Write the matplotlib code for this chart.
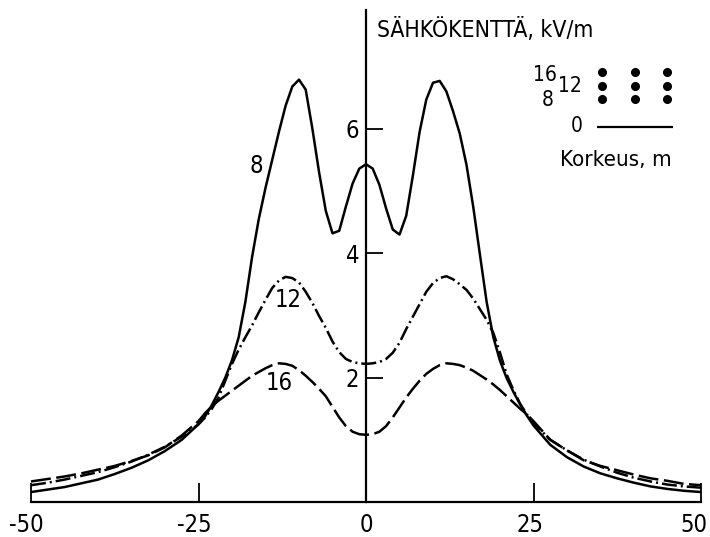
import matplotlib
matplotlib.use("Agg")
import matplotlib.pyplot as plt
from matplotlib.transforms import ScaledTranslation

# ---------------- data ----------------
x_m = [-50, -47.5, -45, -42.5, -40, -37.5, -35, -32.5, -30, -27.5,
       -25, -24, -23, -22, -21, -20, -19, -18, -17, -16, -15, -14, -13,
       -12, -11, -10, -9, -8, -7, -6, -5, -4, -3, -2, -1,
       0,
       1, 2, 3, 4, 5, 6, 7, 8, 9, 10, 11, 12, 13, 14, 15, 16, 17, 18,
       19, 20, 21, 22, 23, 24, 25,
       27.5, 30, 32.5, 35, 37.5, 40, 42.5, 45, 47.5, 50]

e_h8 = [0.16, 0.20, 0.24, 0.30, 0.36, 0.45, 0.55, 0.67, 0.82, 1.00,
        1.25, 1.38, 1.56, 1.77, 2.00, 2.28, 2.65, 3.22, 3.94, 4.55, 5.05, 5.50, 5.95,
        6.37, 6.68, 6.79, 6.63, 6.00, 5.30, 4.68, 4.32, 4.36, 4.75, 5.12, 5.36,
        5.43,
        5.36, 5.10, 4.72, 4.38, 4.30, 4.60, 5.25, 5.95, 6.47, 6.74, 6.77, 6.60, 6.28,
        5.92, 5.42, 4.75, 3.98, 3.22, 2.65, 2.27, 1.99, 1.77, 1.57, 1.39, 1.23,
        0.92, 0.72, 0.57, 0.46, 0.38, 0.31, 0.25, 0.21, 0.18, 0.16]

e_h12 = [0.27, 0.31, 0.36, 0.42, 0.48, 0.56, 0.65, 0.76, 0.89, 1.05,
         1.25, 1.36, 1.50, 1.68, 1.95, 2.22, 2.45, 2.65, 2.84, 3.05, 3.25, 3.44, 3.56,
         3.62, 3.60, 3.53, 3.38, 3.20, 2.99, 2.80, 2.58, 2.41, 2.30, 2.25, 2.23,
         2.22,
         2.23, 2.25, 2.30, 2.40, 2.56, 2.78, 2.98, 3.18, 3.38, 3.52, 3.60, 3.63, 3.58,
         3.50, 3.41, 3.27, 3.10, 2.93, 2.72, 2.40, 2.05, 1.80, 1.58, 1.41, 1.27,
         1.00, 0.83, 0.68, 0.57, 0.47, 0.39, 0.33, 0.28, 0.25, 0.23]

e_h16 = [0.33, 0.37, 0.41, 0.46, 0.52, 0.58, 0.66, 0.75, 0.88, 1.07,
         1.30, 1.43, 1.54, 1.63, 1.71, 1.79, 1.87, 1.95, 2.03, 2.09, 2.15, 2.20, 2.23,
         2.22, 2.19, 2.12, 2.03, 1.93, 1.82, 1.70, 1.53, 1.36, 1.22, 1.13, 1.09,
         1.08,
         1.09, 1.13, 1.22, 1.36, 1.52, 1.68, 1.82, 1.95, 2.06, 2.14, 2.20, 2.23, 2.22,
         2.20, 2.16, 2.11, 2.04, 1.97, 1.89, 1.80, 1.70, 1.60, 1.50, 1.41, 1.30,
         1.00, 0.83, 0.67, 0.58, 0.51, 0.44, 0.38, 0.34, 0.29, 0.27]

x_ticks = [-50, -25, 0, 25, 50]
x_ticklabels = ["-50", "-25", "0", "25", "50"]
y_ticks = [2, 4, 6]
y_ticklabels = ["2", "4", "6"]

curve_labels = ["8", "12", "16"]
curve_label_pos = [(-16.4, 5.4), (-11.6, 3.25), (-13.0, 1.91)]

# legend schematic: conductor heights and phase positions
cond_heights = [8, 12, 16]
phase_pos = [-1, 0, 1]

title_text = "SÄHKÖKENTTÄ, kV/m"
legend_text = "Korkeus, m"

# ---------------- style ----------------
FAM = ["DejaVu Sans"]
plt.rcParams["font.family"] = FAM
plt.rcParams["font.stretch"] = "condensed"
plt.rcParams["lines.solid_capstyle"] = "butt"

fig = plt.figure(figsize=(7.1, 5.37), dpi=100)
W, H = 710, 537
left_px, right_px, bottom_px, top_px = 31, 701, 502, 10
ax = fig.add_axes([left_px / W, (H - bottom_px) / H,
                   (right_px - left_px) / W, (bottom_px - top_px) / H])
ax.set_xlim(-50, 50)
ax.set_ylim(0, (bottom_px - top_px) / 62.2)

lw = 1.8
ax.plot(x_m, e_h8, color="black", lw=lw, linestyle="-")
ax.plot(x_m, e_h12, color="black", lw=lw, linestyle=(0, (6, 1.6, 0.8, 1.6)))
ax.plot(x_m, e_h16, color="black", lw=lw, linestyle=(0, (8, 2.2)))

for lab, (px, py) in zip(curve_labels, curve_label_pos):
    ax.text(px, py, lab, fontsize=17, ha="center", va="center",
            fontstretch="condensed")

# axes styling
for s in ["top", "right"]:
    ax.spines[s].set_visible(False)
ax.spines["left"].set_position(("data", 0))
ax.spines["left"].set_linewidth(1.6)
ax.spines["bottom"].set_linewidth(1.6)

ax.set_xticks(x_ticks)
ax.set_xticklabels(x_ticklabels, fontsize=17, fontstretch="condensed")
ax.tick_params(axis="x", direction="in", length=14, width=1.3, pad=8)
x_shift_px = [-5, -4, 0, -3, -7]
for lbl, sh in zip(ax.get_xticklabels(), x_shift_px):
    lbl.set_transform(lbl.get_transform() +
                      ScaledTranslation(sh / 100, 0, fig.dpi_scale_trans))

ax.set_yticks(y_ticks)
ax.set_yticklabels(y_ticklabels, fontsize=17, fontstretch="condensed")
ax.tick_params(axis="y", direction="in", length=12, width=1.3, pad=5)

ax.text(1.6, 7.59, title_text, fontsize=16.5, ha="left", va="center",
        fontstretch="condensed")
ax.text(37.3, 5.5, legend_text, fontsize=16, ha="center", va="center",
        fontstretch="condensed")

# legend schematic inset
ins = fig.add_axes([540 / W, (H - 135) / H, 140 / W, 75 / H])
ins.set_xlim(-2.908, 1.4)
ins.set_ylim(-2.327, 19.49)
ins.axis("off")
for hgt in cond_heights:
    ins.plot(phase_pos, [hgt] * len(phase_pos), linestyle="none",
             marker="o", markersize=5.5, color="black")
ins.plot([-1.15, 1.18], [0, 0], color="black", lw=1.6)
for txt, tx, ty in [("16", -2.77, 15.1), ("8", -2.66, 7.85),
                    ("12", -1.98, 11.9), ("0", -1.77, 0.3)]:
    ins.text(tx, ty, txt, fontsize=15, ha="center", va="center",
             fontstretch="condensed")

fig.savefig("out.png", dpi=100)
